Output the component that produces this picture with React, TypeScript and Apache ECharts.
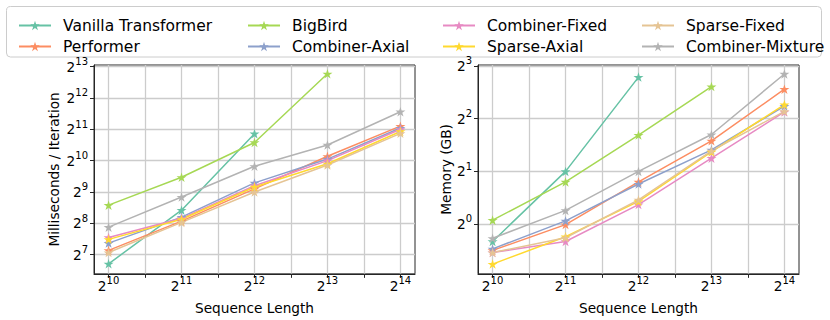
import React, { useEffect, useRef } from 'react';
import * as echarts from 'echarts';

// Sequence length exponents (2^n)
const seqExps = [10, 11, 12, 13, 14];
const xLabelExps = [10, 11, 12, 13, 14];
const xTickExps = [10, 10.5, 11, 11.5, 12, 12.5, 13, 13.5, 14];
const timeTickExps = [7, 8, 9, 10, 11, 12, 13];
const memTickExps = [0, 1, 2, 3];

const modelNames = [
  'Vanilla Transformer',
  'Performer',
  'BigBird',
  'Combiner-Axial',
  'Combiner-Fixed',
  'Sparse-Axial',
  'Sparse-Fixed',
  'Combiner-Mixture',
];

// Milliseconds / iteration, as log2 exponents
const vanillaTime = [6.71, 8.42, 10.86];
const performerTime = [7.14, 8.07, 9.1, 10.14, 11.1];
const bigbirdTime = [8.58, 9.47, 10.58, 12.77];
const axialTime = [7.37, 8.2, 9.29, 10.05, 11.04];
const fixedTime = [7.55, 8.16, 9.2, 10.0, 11.0];
const sparseAxialTime = [7.49, 8.13, 9.16, 9.9, 10.93];
const sparseFixedTime = [7.07, 8.03, 9.0, 9.86, 10.87];
const mixtureTime = [7.88, 8.84, 9.82, 10.5, 11.56];

// Memory (GB), as log2 exponents
const vanillaMem = [-0.33, 1.0, 2.79];
const performerMem = [-0.5, -0.01, 0.8, 1.58, 2.56];
const bigbirdMem = [0.075, 0.8, 1.69, 2.61];
const axialMem = [-0.47, 0.06, 0.76, 1.41, 2.24];
const fixedMem = [-0.54, -0.33, 0.37, 1.25, 2.13];
const sparseAxialMem = [-0.76, -0.24, 0.43, 1.37, 2.27];
const sparseFixedMem = [-0.54, -0.26, 0.46, 1.39, 2.14];
const mixtureMem = [-0.27, 0.26, 1.0, 1.7, 2.85];

const timeSeries = [vanillaTime, performerTime, bigbirdTime, axialTime, fixedTime, sparseAxialTime, sparseFixedTime, mixtureTime];
const memSeries = [vanillaMem, performerMem, bigbirdMem, axialMem, fixedMem, sparseAxialMem, sparseFixedMem, mixtureMem];

const colors = ['#66c2a5', '#fc8d62', '#a6d854', '#8da0cb', '#e78ac3', '#ffd92f', '#e5c494', '#b3b3b3'];

const legendColumns = [
  ['Vanilla Transformer', 'Performer'],
  ['BigBird', 'Combiner-Axial'],
  ['Combiner-Fixed', 'Sparse-Axial'],
  ['Sparse-Fixed', 'Combiner-Mixture'],
];
const legendLefts = [13, 242, 437, 636];

const FONT = 'DejaVu Sans';
const STAR =
  'path://M0,-100 L22.45,-30.9 L95.11,-30.9 L36.33,11.8 L58.78,80.9 L0,38.2 L-58.78,80.9 L-36.33,11.8 L-95.11,-30.9 L-22.45,-30.9 Z';

const powLabel = (v: number) => `{b|2}{s|${Math.round(v)}}`;
const powRich = {
  b: { fontSize: 13.7, fontFamily: FONT, color: '#000', lineHeight: 18, verticalAlign: 'middle' },
  s: { fontSize: 10, fontFamily: FONT, color: '#000', lineHeight: 18, verticalAlign: 'middle', padding: [0, 0, 10.5, 0] },
};

function makeX(gridIndex: number) {
  return {
    type: 'value',
    gridIndex,
    min: 9.8,
    max: 14.2,
    name: 'Sequence Length',
    nameLocation: 'middle',
    nameGap: 19,
    nameTextStyle: { fontFamily: FONT, fontSize: 13.7, color: '#000' },
    axisLine: { show: true, onZero: false, lineStyle: { color: '#262626', width: 1 } },
    axisTick: { show: true, customValues: xTickExps, length: 4, lineStyle: { color: '#262626' } },
    axisLabel: { customValues: xLabelExps, formatter: powLabel, rich: powRich, margin: 3 },
    splitLine: { show: true, lineStyle: { color: '#cccccc', width: 1.3 } },
  };
}

function makeY(gridIndex: number, min: number, max: number, ticks: number[], name: string, nameGap: number) {
  return {
    type: 'value',
    gridIndex,
    min,
    max,
    name,
    nameLocation: 'middle',
    nameGap,
    nameTextStyle: { fontFamily: FONT, fontSize: 13.7, color: '#000' },
    axisLine: { show: true, onZero: false, lineStyle: { color: '#262626', width: 1 } },
    axisTick: { show: true, customValues: ticks, length: 4, lineStyle: { color: '#262626' } },
    axisLabel: { customValues: ticks, formatter: powLabel, rich: powRich, margin: 6 },
    splitLine: { show: true, lineStyle: { color: '#cccccc', width: 1.3 } },
  };
}

function buildSeries() {
  const out: any[] = [];
  modelNames.forEach((name, i) => {
    [timeSeries[i], memSeries[i]].forEach((vals, g) => {
      out.push({
        type: 'line',
        name,
        xAxisIndex: g,
        yAxisIndex: g,
        data: vals.map((v, k) => [seqExps[k], v]),
        symbol: STAR,
        symbolSize: 10,
        symbolKeepAspect: true,
        showAllSymbol: true,
        lineStyle: { color: colors[i], width: 1.5 },
        itemStyle: { color: colors[i] },
        emphasis: { disabled: true },
      });
    });
  });
  return out;
}

export default function App() {
  const ref = useRef<HTMLDivElement>(null);
  useEffect(() => {
    document.body.style.margin = '0';
    const chart = echarts.init(ref.current!, null, { renderer: 'svg' });
    chart.setOption({
      animation: false,
      color: colors,
      graphic: [
        {
          type: 'rect',
          z: 0,
          shape: { x: 6.5, y: 6.5, width: 815, height: 50.5, r: 4 },
          style: { fill: '#fff', stroke: '#cccccc', lineWidth: 1 },
        },
      ],
      legend: legendColumns.map((names, i) => ({
        data: names,
        orient: 'vertical',
        left: legendLefts[i],
        top: 12,
        itemWidth: 32,
        itemHeight: 12,
        itemGap: 4,
        selectedMode: false,
        textStyle: { fontFamily: FONT, fontSize: 15.5, lineHeight: 17, color: '#000', padding: [0, 0, 0, 7] },
      })),
      grid: [
        { left: 94, top: 65, width: 321, height: 211, show: true, borderColor: '#262626', borderWidth: 1, backgroundColor: 'transparent' },
        { left: 478, top: 65, width: 321, height: 211, show: true, borderColor: '#262626', borderWidth: 1, backgroundColor: 'transparent' },
      ],
      xAxis: [makeX(0), makeX(1)],
      yAxis: [
        makeY(0, 6.39, 13.05, timeTickExps, 'Milliseconds / Iteration', 33),
        makeY(1, -0.945, 3.02, memTickExps, 'Memory (GB)', 25),
      ],
      series: buildSeries(),
    });
    return () => chart.dispose();
  }, []);
  return <div ref={ref} style={{ width: 830, height: 320 }} />;
}
